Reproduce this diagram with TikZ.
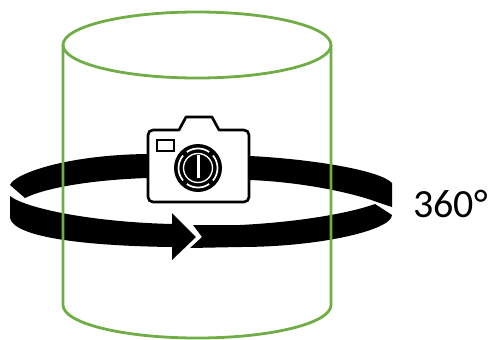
\documentclass[tikz,border=0pt]{standalone}
\usepackage{fontspec}
\setmainfont{Carlito}
\definecolor{cylgreen}{HTML}{70AD47}
\tikzset{
  cylline/.style={draw=cylgreen,line width=2.1pt},
  ribbon/.style={fill=black,draw=none},
  cambody/.style={draw=black,fill=white,line width=2pt,line join=round},
  lensring/.style={draw=white,line width=1pt}
}
\begin{document}
\begin{tikzpicture}[x=0.75pt,y=-0.75pt]
\useasboundingbox (0,0) rectangle (488,339);
% back and front of the ribbon
\fill[ribbon] (10,185) .. controls (14,174) and (65,155) .. (147,154) -- (250,156)
  .. controls (310,159) and (380,170) .. (392,183) -- (392,207) -- (377,202)
  .. controls (350,192) and (300,182) .. (250,180) -- (147,178)
  .. controls (90,180) and (45,188) .. (25,198) -- cycle;
\fill[ribbon] (10,196) .. controls (25,208) and (90,222) .. (172,224) -- (172,213) -- (196,237)
  -- (172,260) -- (172,247) .. controls (90,246) and (14,238) .. (10,218) -- cycle;
\fill[ribbon] (193,225) -- (240,225) .. controls (300,222) and (350,213) .. (375,204)
  -- (392,215) .. controls (392,230) and (320,247) .. (240,247) -- (190,248) -- (202,237) -- cycle;
% cylinder
\draw[cylline] (197,45) ellipse (134 and 33);
\draw[cylline] (63,45) -- (63,305) arc (180:0:134 and 33) -- (331,45);
% camera
\draw[cambody] (153,130) -- (179,130) -- (186,117) -- (212,117) -- (219,130) -- (244,130)
  arc (-90:0:5) -- (249,197) arc (0:90:5) -- (153,202) arc (90:180:5) -- (148,135) arc (180:270:5) -- cycle;
\draw[black,line width=2pt] (157,140) rectangle (174,151);
\fill[black] (198,168) circle (24);
\draw[lensring] (198,168) circle (14.5);
\draw[white,line width=1.3pt] (198,168) ++(55:19.5) arc (55:125:19.5);
\draw[white,line width=1.3pt] (198,168) ++(-55:19.5) arc (-55:-125:19.5);
\draw[white,line width=1.3pt] (198,168) ++(-40:19.5) arc (-40:40:19.5);
\draw[white,line width=1.3pt] (198,168) ++(140:19.5) arc (140:220:19.5);
\fill[white] (197,155) rectangle (200,178);
\node[font=\fontsize{30}{30}\selectfont,inner sep=0pt,anchor=west] (angle) at (413,204) {360°};
\end{tikzpicture}
\end{document}
